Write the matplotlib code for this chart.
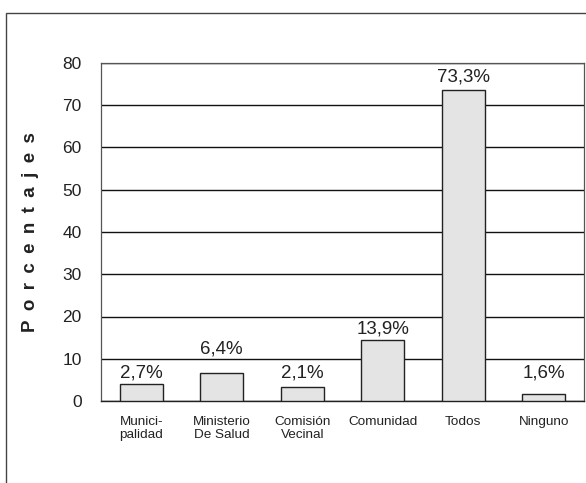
import matplotlib.pyplot as plt
from matplotlib.patches import Rectangle

plt.rcParams['font.family'] = ['Liberation Sans', 'DejaVu Sans']

categorias = ["Munici-\npalidad", "Ministerio\nDe Salud", "Comisión\nVecinal",
              "Comunidad", "Todos", "Ninguno"]
# alturas de barra (no coinciden exacto con las etiquetas)
alturas = [4.1, 6.6, 3.2, 14.4, 73.5, 1.7]
etiquetas = ["2,7%", "6,4%", "2,1%", "13,9%", "73,3%", "1,6%"]
etiqueta_y = [4.6, 10.3, 4.6, 15.0, 74.6, 4.6]
yticks = [0, 10, 20, 30, 40, 50, 60, 70, 80]

fig = plt.figure(figsize=(5.86, 4.83), dpi=100)
ax = fig.add_axes([101 / 586, 1 - 401 / 483, 483 / 586, 338 / 483])

x = range(len(categorias))
ax.bar(x, alturas, width=0.53, color="#e4e4e4", edgecolor="#222222",
       linewidth=1.0, zorder=3)
for i, (t, y) in enumerate(zip(etiquetas, etiqueta_y)):
    ax.text(i, y, t, ha="center", va="bottom", fontsize=13.5, color="#222222",
            zorder=4)

ax.set_xlim(-0.5, 5.5)
ax.set_ylim(0, 80)
ax.set_yticks(yticks)
ax.set_yticklabels([str(v) for v in yticks], fontsize=12.5, color="#222222")
ax.set_xticks(list(x))
ax.set_xticklabels(categorias, fontsize=9.7, color="#222222", linespacing=1.1)
ax.tick_params(axis="both", length=0)
ax.tick_params(axis="y", pad=14)
ax.tick_params(axis="x", pad=11)
ax.yaxis.grid(True, color="#111111", linewidth=1.0, zorder=1)
ax.set_axisbelow(True)
for s in ["top", "left", "right"]:
    ax.spines[s].set_color("#555555")
    ax.spines[s].set_linewidth(0.9)
ax.spines["bottom"].set_color("#222222")
ax.spines["bottom"].set_linewidth(1.0)

ax.set_ylabel("\u2002".join("Porcentajes"), fontsize=13.5, fontweight="bold",
              color="#222222", labelpad=17)

# marco exterior
fig.patches.append(Rectangle((6 / 586, -0.1), 1.2, 1 - 13 / 483 + 0.1,
                             transform=fig.transFigure, fill=False,
                             edgecolor="#444444", linewidth=1.0))

fig.savefig("out.png", dpi=100)
